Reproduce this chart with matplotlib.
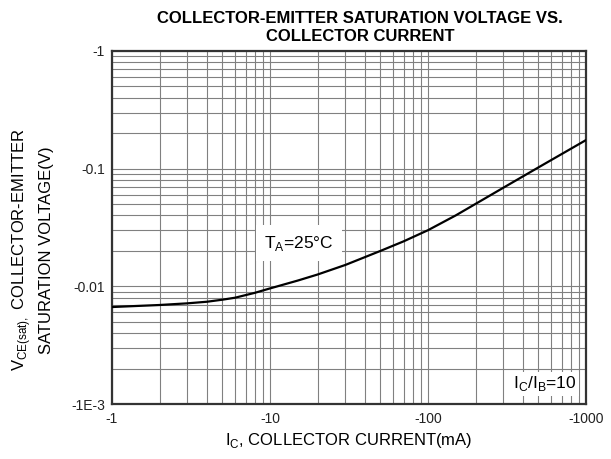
import matplotlib
matplotlib.use("Agg")
import matplotlib.pyplot as plt
from matplotlib.ticker import FixedLocator, FixedFormatter, LogLocator, NullFormatter

plt.rcParams['font.family'] = ['Liberation Sans', 'DejaVu Sans']
plt.rcParams['mathtext.fontset'] = 'custom'
plt.rcParams['mathtext.rm'] = 'Liberation Sans'

# Data (magnitudes; axis labels show negative values as in the datasheet)
ic_ma = [1, 2, 3, 4, 5, 6, 8, 10, 15, 20, 30, 50, 70, 100, 150, 200, 300, 500, 1000]
vce_sat = [0.00667, 0.00694, 0.00717, 0.0074, 0.0077, 0.0080, 0.0088, 0.0096,
           0.0112, 0.0126, 0.0152, 0.0200, 0.0241, 0.0300, 0.0401, 0.0502,
           0.0689, 0.1025, 0.175]

x_ticks = [1, 10, 100, 1000]
x_ticklabels = ["-1", "-10", "-100", "-1000"]
y_ticks = [0.001, 0.01, 0.1, 1]
y_ticklabels = ["-1E-3", "-0.01", "-0.1", "-1"]

fig = plt.figure(figsize=(6.11, 4.59), dpi=100)
ax = fig.add_axes([112/611, 1-404/459, 474/611, 353/459])

ax.plot(ic_ma, vce_sat, color='black', lw=1.6, zorder=3)
ax.set_xscale('log')
ax.set_yscale('log')
ax.set_xlim(1, 1000)
ax.set_ylim(0.001, 1)

ax.xaxis.set_major_locator(FixedLocator(x_ticks))
ax.xaxis.set_major_formatter(FixedFormatter(x_ticklabels))
ax.yaxis.set_major_locator(FixedLocator(y_ticks))
ax.yaxis.set_major_formatter(FixedFormatter(y_ticklabels))
ax.xaxis.set_minor_locator(LogLocator(base=10, subs=range(2, 10)))
ax.yaxis.set_minor_locator(LogLocator(base=10, subs=range(2, 10)))
ax.xaxis.set_minor_formatter(NullFormatter())
ax.yaxis.set_minor_formatter(NullFormatter())

ax.grid(True, which='both', color='#808080', lw=0.8)
ax.tick_params(which='both', length=0, labelsize=10, colors='#222222')
ax.tick_params(axis='x', pad=6)
ax.tick_params(axis='y', pad=5)
for s in ax.spines.values():
    s.set_color('#333333')
    s.set_linewidth(1.6)

ax.text(0.395, 0.456, r"T$_\mathregular{A}$=25°C", transform=ax.transAxes,
        ha='center', va='center', fontsize=12.5,
        bbox=dict(facecolor='white', edgecolor='none', pad=6), zorder=4)
ax.text(0.913, 0.057, r"I$_\mathregular{C}$/I$_\mathregular{B}$=10", transform=ax.transAxes,
        ha='center', va='center', fontsize=12.5,
        bbox=dict(facecolor='white', edgecolor='none', pad=2), zorder=4)

fig.text(360/611, 1-27.5/459, "COLLECTOR-EMITTER SATURATION VOLTAGE VS.\nCOLLECTOR CURRENT",
         ha='center', va='center', fontsize=12, fontweight='bold', linespacing=1.3)

fig.text(349/611, 1-441/459, r"I$_\mathregular{C}$, COLLECTOR CURRENT(mA)",
         ha='center', va='center', fontsize=12)
fig.text(22/611, 1-250/459, r"V$_\mathregular{CE(sat),}$ COLLECTOR-EMITTER",
         ha='center', va='center', rotation=90, fontsize=12)
fig.text(47/611, 1-250/459, "SATURATION VOLTAGE(V)",
         ha='center', va='center', rotation=90, fontsize=12)

fig.savefig("out.png", dpi=100, facecolor='white')
